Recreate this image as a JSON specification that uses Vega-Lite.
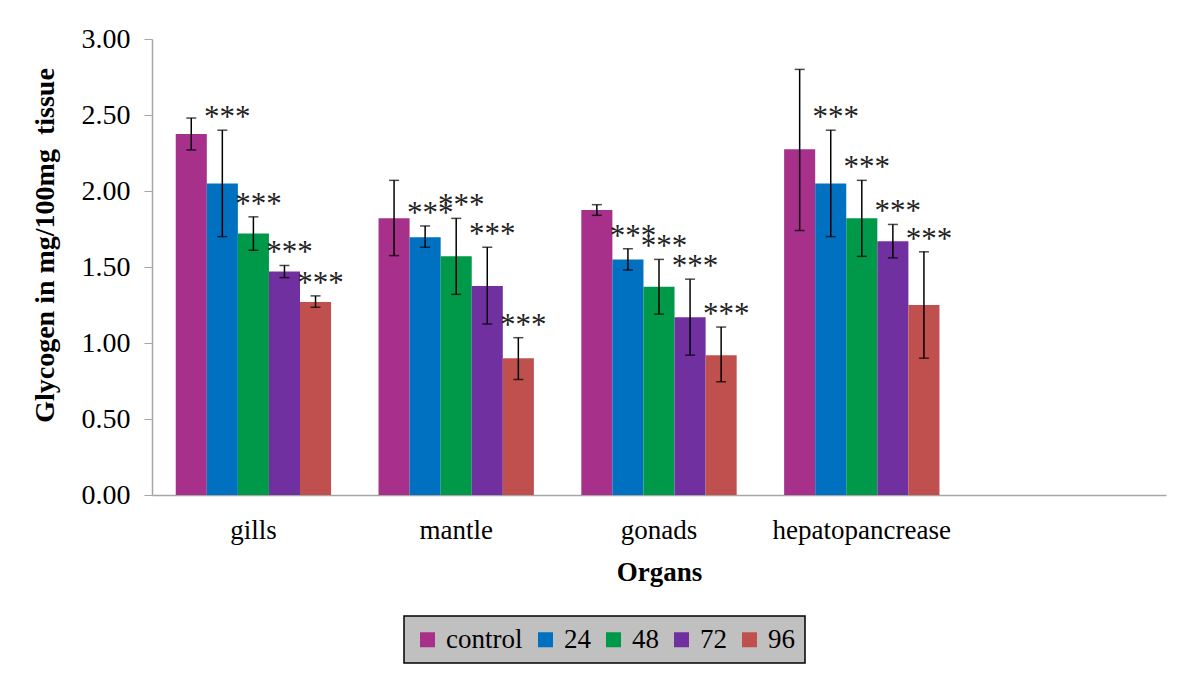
{
  "$schema": "https://vega.github.io/schema/vega-lite/v6.json",
  "width": 1014,
  "height": 456,
  "autosize": {"type": "none"},
  "padding": {"left": 152, "top": 39, "right": 23, "bottom": 180},
  "background": "white",
  "config": {
    "view": {"stroke": null},
    "font": "Liberation Serif",
    "style": {"guide-label": {"font": "Liberation Serif"}, "guide-title": {"font": "Liberation Serif"}},
    "axis": {"labelFont": "Liberation Serif", "titleFont": "Liberation Serif", "labelColor": "black", "titleColor": "black", "grid": false, "domainColor": "#a6a6a6", "tickColor": "#a6a6a6"},
    "legend": {"labelFont": "Liberation Serif"}
  },
  "data": {
    "values": [
      {"organ": "gills", "group": "control", "mean": 2.375, "lo": 2.27, "hi": 2.48, "sig": ""},
      {"organ": "gills", "group": "24", "mean": 2.05, "lo": 1.70, "hi": 2.40, "sig": "***"},
      {"organ": "gills", "group": "48", "mean": 1.72, "lo": 1.61, "hi": 1.83, "sig": "***"},
      {"organ": "gills", "group": "72", "mean": 1.47, "lo": 1.43, "hi": 1.51, "sig": "***"},
      {"organ": "gills", "group": "96", "mean": 1.27, "lo": 1.235, "hi": 1.31, "sig": "***"},
      {"organ": "mantle", "group": "control", "mean": 1.82, "lo": 1.575, "hi": 2.07, "sig": ""},
      {"organ": "mantle", "group": "24", "mean": 1.695, "lo": 1.63, "hi": 1.77, "sig": "***"},
      {"organ": "mantle", "group": "48", "mean": 1.57, "lo": 1.32, "hi": 1.82, "sig": "***"},
      {"organ": "mantle", "group": "72", "mean": 1.375, "lo": 1.125, "hi": 1.63, "sig": "***"},
      {"organ": "mantle", "group": "96", "mean": 0.90, "lo": 0.76, "hi": 1.035, "sig": "***"},
      {"organ": "gonads", "group": "control", "mean": 1.875, "lo": 1.84, "hi": 1.91, "sig": ""},
      {"organ": "gonads", "group": "24", "mean": 1.55, "lo": 1.48, "hi": 1.62, "sig": "***"},
      {"organ": "gonads", "group": "48", "mean": 1.37, "lo": 1.19, "hi": 1.55, "sig": "***"},
      {"organ": "gonads", "group": "72", "mean": 1.17, "lo": 0.92, "hi": 1.42, "sig": "***"},
      {"organ": "gonads", "group": "96", "mean": 0.92, "lo": 0.745, "hi": 1.105, "sig": "***"},
      {"organ": "hepatopancrease", "group": "control", "mean": 2.275, "lo": 1.74, "hi": 2.80, "sig": ""},
      {"organ": "hepatopancrease", "group": "24", "mean": 2.05, "lo": 1.70, "hi": 2.40, "sig": "***"},
      {"organ": "hepatopancrease", "group": "48", "mean": 1.82, "lo": 1.57, "hi": 2.07, "sig": "***"},
      {"organ": "hepatopancrease", "group": "72", "mean": 1.67, "lo": 1.56, "hi": 1.78, "sig": "***"},
      {"organ": "hepatopancrease", "group": "96", "mean": 1.25, "lo": 0.90, "hi": 1.60, "sig": "***"}
    ]
  },
  "encoding": {
    "x": {
      "field": "organ", "type": "nominal",
      "scale": {"domain": ["gills", "mantle", "gonads", "hepatopancrease", " "], "paddingInner": 0.234, "paddingOuter": 0.117},
      "axis": {"title": "Organs", "titleFontSize": 27, "titleFontWeight": "bold", "titlePadding": 16, "labelFontSize": 27, "labelAngle": 0, "ticks": false, "labelPadding": 22, "domainWidth": 1.5}
    },
    "xOffset": {"field": "group", "type": "nominal", "sort": ["control", "24", "48", "72", "96"], "scale": {"paddingInner": 0, "paddingOuter": 0}}
  },
  "layer": [
    {
      "mark": {"type": "bar"},
      "encoding": {
        "y": {
          "field": "mean", "type": "quantitative",
          "scale": {"domain": [0, 3], "nice": false},
          "axis": {"title": "Glycogen in mg/100mg\u00a0 tissue", "titleFontSize": 28, "titleFontWeight": "bold", "titlePadding": 22, "titleY": 206, "labelFontSize": 28, "format": ".2f", "values": [0, 0.5, 1, 1.5, 2, 2.5, 3], "tickSize": 8, "labelPadding": 14, "domainWidth": 1.5}
        },
        "color": {
          "field": "group", "type": "nominal",
          "sort": ["control", "24", "48", "72", "96"],
          "scale": {"domain": ["control", "24", "48", "72", "96"], "range": ["#a6308a", "#0070c0", "#00994a", "#7030a0", "#c0504d"]},
          "legend": {
            "title": null, "orient": "none", "direction": "horizontal", "columns": 5,
            "legendX": 252, "legendY": 577,
            "fillColor": "#c0c0c0", "strokeColor": "black", "padding": 10,
            "symbolType": "square", "symbolSize": 225, "symbolStrokeWidth": 0, "symbolOpacity": 1,
            "labelFont": "Liberation Serif", "labelFontSize": 27, "labelColor": "black", "labelOffset": 5, "columnPadding": 9,
            "labelLimit": 200,
            "encode": {
              "legend": {"update": {"strokeWidth": {"value": 1.5}}}
            }
          }
        }
      }
    },
    {
      "mark": {"type": "rule", "color": "black", "strokeWidth": 1.5},
      "encoding": {"y": {"field": "lo", "type": "quantitative"}, "y2": {"field": "hi"}}
    },
    {
      "mark": {"type": "tick", "color": "black", "size": 10, "thickness": 1.5, "orient": "horizontal"},
      "encoding": {"y": {"field": "lo", "type": "quantitative"}}
    },
    {
      "mark": {"type": "tick", "color": "black", "size": 10, "thickness": 1.5, "orient": "horizontal"},
      "encoding": {"y": {"field": "hi", "type": "quantitative"}}
    },
    {
      "mark": {"type": "text", "fontSize": 31, "dx": 5, "dy": -3, "baseline": "alphabetic", "color": "#222222", "font": "Liberation Serif"},
      "encoding": {"y": {"field": "hi", "type": "quantitative"}, "text": {"field": "sig"}}
    }
  ]
}
